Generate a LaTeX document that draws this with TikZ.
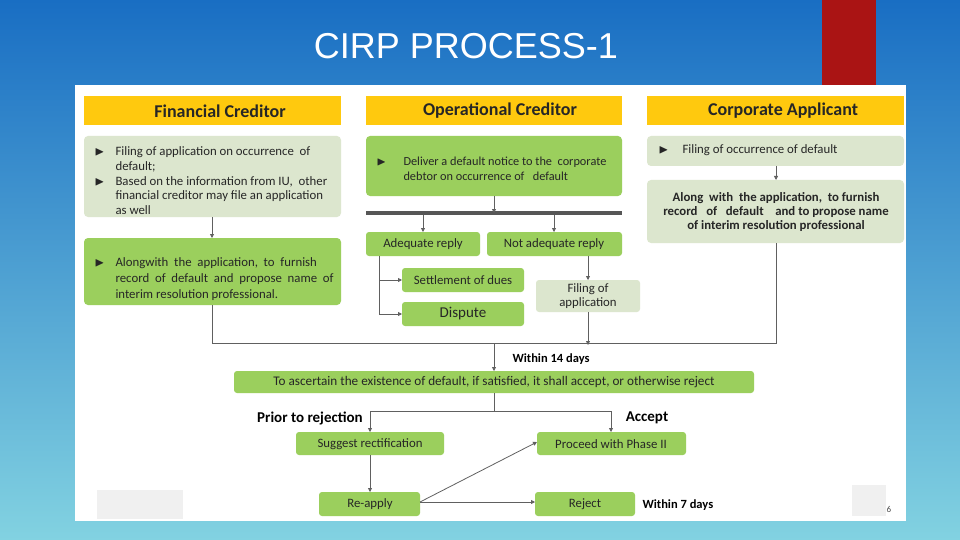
\documentclass[tikz,border=0pt]{standalone}
\usepackage{amssymb}
\usepackage{fontspec}
\setmainfont{Carlito}
\newfontfamily\ttl{Liberation Sans}
\usetikzlibrary{arrows.meta}
\definecolor{hdr}{HTML}{FFC90E}
\definecolor{gr}{HTML}{9BCF5D}
\definecolor{lg}{HTML}{DCE6CE}
\definecolor{ln}{HTML}{606060}
\definecolor{bgtop}{RGB}{25,110,195}
\definecolor{bgbot}{RGB}{130,210,225}
\definecolor{redbar}{RGB}{170,20,20}
\begin{document}
\begin{tikzpicture}[x=1pt,y=-1pt,
 hd/.style={fill=hdr,font=\bfseries\fontsize{18}{20}\selectfont,text=black!85},
 tx/.style={font=\fontsize{12.8}{17}\selectfont,text=black!85,align=left},
 cx/.style={font=\fontsize{12.8}{16}\selectfont,text=black!85,align=center},
 con/.style={draw=ln,line width=0.8pt},
 arr/.style={con,-{Triangle[width=4pt,length=4pt]}}]
\shade[top color=bgtop,bottom color=bgbot] (0,0) rectangle (960,540);
\useasboundingbox (0,0) rectangle (960,540);
\fill[redbar] (822,0) rectangle (876,85);
\node[text=white,font=\ttl\fontsize{36}{40}\selectfont] (title) at (466,46) {CIRP PROCESS-1};
\fill[white] (75,85) rectangle (906,521);
\fill[black!6] (97,490) rectangle (183,519);
\fill[black!6] (852,485) rectangle (886,516);
\node[font=\fontsize{9}{10}\selectfont,text=black!70] (pg) at (889,509) {6};
% headers
\fill[hdr] (84,96) rectangle (341,125); \node[hd] (h1) at (220,111) {Financial Creditor};
\fill[hdr] (366,96) rectangle (622,125); \node[hd] (h2) at (500,111) {Operational Creditor};
\fill[hdr] (647,96) rectangle (904,125); \node[hd] (h3) at (783,111) {Corporate Applicant};
% FC
\fill[lg,rounded corners=4pt] (84,136) rectangle (341,217);
\node[tx,anchor=north west,font=\fontsize{12.8}{14.8}\selectfont] (f1) at (91,143) {%
\makebox[21pt][l]{$\blacktriangleright$}Filing of application on occurrence\ \ of\\\hspace*{21pt}default;\\
\makebox[21pt][l]{$\blacktriangleright$}Based on the information from IU,\ \ other\\\hspace*{21pt}financial creditor may file an application\\\hspace*{21pt}as well};
\coordinate (f1b) at (212,217);
\fill[gr,rounded corners=4pt] (84,238) rectangle (341,305);
\node[tx,text width=242pt,anchor=north west,align=justify,font=\fontsize{12.8}{16}\selectfont] (f2) at (91,254) {\makebox[21pt][l]{$\blacktriangleright$}Alongwith\ \ the\ \ application,\ \ to\ \ furnish\\\hspace*{21pt}record\ \ of\ \ default\ \ and\ \ propose\ \ name\ \ of\\\hspace*{21pt}interim resolution professional.};
\coordinate (f2t) at (212,238);
\draw[arr] (f1b) -- (f2t);
% OC
\fill[gr,rounded corners=4pt] (366,136) rectangle (622,196);
\node[tx,anchor=north west,font=\fontsize{12.3}{15}\selectfont] (o1) at (373,153) {\makebox[27pt][l]{$\blacktriangleright$}Deliver a default notice to the\ \ corporate\\\hspace*{27pt}debtor on occurrence of\ \ \ default};
\fill[ln!90!black] (366,211) rectangle (622,215);
\coordinate (bar) at (494,213);
\draw[arr] (494,196) -- (bar);
\fill[gr,rounded corners=3pt] (366,232) rectangle (480,256); \node[cx] (ar) at (423,244) {Adequate reply};
\fill[gr,rounded corners=3pt] (487,232) rectangle (622,256); \node[cx] (nar) at (554,244) {Not adequate reply};
\draw[arr] (423,215) -- (423,232);
\draw[arr] (554,215) -- (554,232);
\fill[gr,rounded corners=3pt] (402,268) rectangle (524,292); \node[cx] (sd) at (463,280) {Settlement of dues};
\fill[gr,rounded corners=3pt] (402,302) rectangle (524,326); \node[cx,font=\fontsize{15}{17}\selectfont] (dp) at (463,314) {Dispute};
\draw[arr] (379,256) |- (402,280);
\draw[arr] (379,270) |- (402,314);
\fill[lg,rounded corners=3pt] (536,280) rectangle (640,312); \node[cx,font=\fontsize{12.8}{14}\selectfont] (fa) at (588,296) {Filing of\\application};
\draw[arr] (588,256) -- (588,280);
% CA
\fill[lg,rounded corners=4pt] (647,136) rectangle (904,166);
\node[tx,anchor=west] (c1) at (655,150) {\makebox[24pt][l]{$\blacktriangleright$}Filing of occurrence of default};
\draw[arr] (776,166) -- (776,180);
\fill[lg,rounded corners=4pt] (647,180) rectangle (904,243);
\node[cx,font=\bfseries\fontsize{12.8}{14}\selectfont] (c2) at (776,212) {Along\ \ with\ \ the application,\ \ to furnish\\record\ \ \ of\ \ \ default\ \ \ \ and to propose name\\of interim resolution professional};
% merge
\draw[con] (212,305) -- (212,343) -- (776,343) -- (776,243);
\draw[arr] (588,312) -- (588,345);
\fill[gr,rounded corners=3pt] (234,371) rectangle (754,393);
\node[cx,font=\fontsize{13.2}{14}\selectfont] (m) at (494,382) {To ascertain the existence of default, if satisfied, it shall accept, or otherwise reject};
\draw[arr] (494,343) -- (494,371);
\node[font=\bfseries\fontsize{12.5}{14}\selectfont,anchor=west] (w14) at (509,359) {Within 14 days};
\draw[con] (494,393) -- (494,411);
\draw[arr] (494,411) -- (370,411) -- (370,432);
\draw[arr] (494,411) -- (611,411) -- (611,432);
\node[font=\bfseries\fontsize{15}{17}\selectfont] (pr) at (310,418) {Prior to rejection};
\node[font=\bfseries\fontsize{15}{17}\selectfont] (acc) at (647,418) {Accept};
\fill[gr,rounded corners=3pt] (296,432) rectangle (444,455); \node[cx] (sr) at (370,444) {Suggest rectification};
\fill[gr,rounded corners=3pt] (537,432) rectangle (686,455); \node[cx] (pp) at (611,444) {Proceed with Phase II};
\fill[gr,rounded corners=3pt] (319,492) rectangle (420,516); \node[cx] (ra) at (370,504) {Re-apply};
\fill[gr,rounded corners=3pt] (535,492) rectangle (635,516); \node[cx] (rj) at (585,504) {Reject};
\node[font=\bfseries\fontsize{12.5}{14}\selectfont,anchor=west] (w7) at (639,505) {Within 7 days};
\draw[arr] (370,455) -- (370,492);
\draw[arr] (420,502) -- (535,502);
\draw[arr] (420,502) -- (537,442);
\end{tikzpicture}
\end{document}
